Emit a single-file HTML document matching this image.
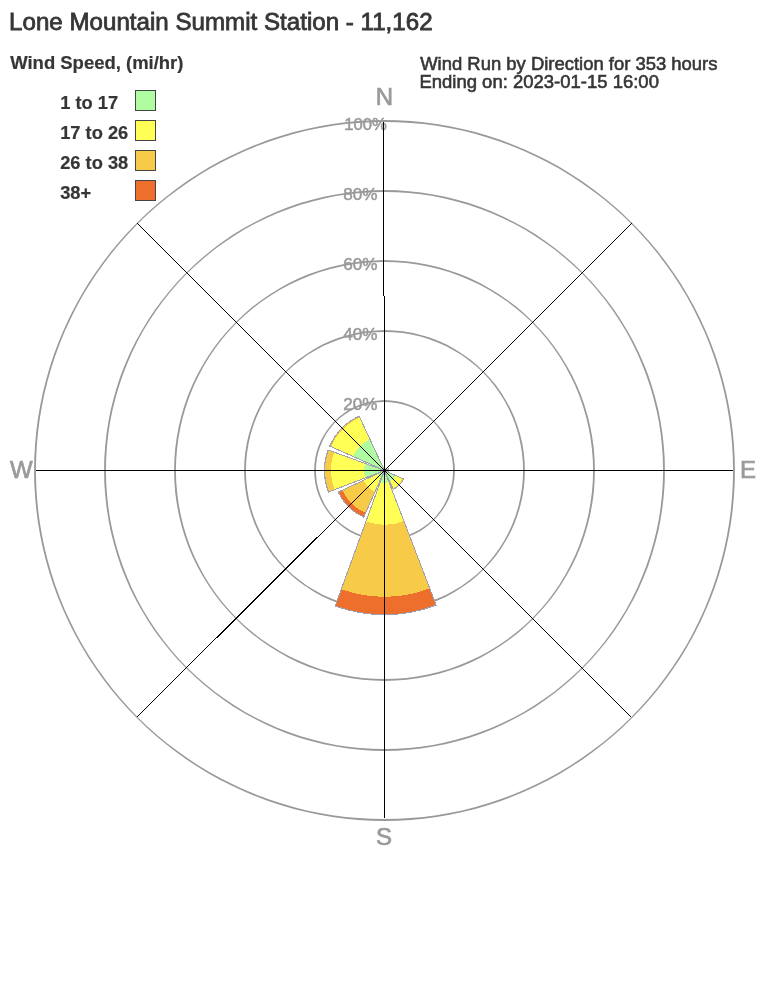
<!DOCTYPE html>
<html lang="en"><head><meta charset="utf-8"><title>Lone Mountain Summit Station - 11,162</title>
<style>
html,body{margin:0;padding:0;background:#fff;}
svg{display:block;opacity:0.999;will-change:transform;font-family:"Liberation Sans",Arial,Helvetica,sans-serif;}
</style></head><body>
<svg width="768" height="1008" viewBox="0 0 768 1008">
<rect width="768" height="1008" fill="#ffffff"/>

<g fill="#999999" fill-rule="evenodd" stroke="none">
<path d="M454.9,470.5L454.6,476.6L453.8,482.7L452.5,488.7L450.6,494.6L448.2,500.2L445.4,505.6L442.0,510.8L438.3,515.6L434.1,520.1L429.6,524.3L424.8,528.0L419.6,531.4L414.2,534.2L408.6,536.6L402.7,538.5L396.7,539.8L390.6,540.6L384.5,540.9L378.4,540.6L372.3,539.8L366.3,538.5L360.4,536.6L354.8,534.2L349.4,531.4L344.2,528.0L339.4,524.3L334.9,520.1L330.7,515.6L327.0,510.8L323.6,505.6L320.8,500.2L318.4,494.6L316.5,488.7L315.2,482.7L314.4,476.6L314.1,470.5L314.4,464.4L315.2,458.3L316.5,452.3L318.4,446.4L320.8,440.8L323.6,435.4L327.0,430.2L330.7,425.4L334.9,420.9L339.4,416.7L344.2,413.0L349.4,409.6L354.8,406.8L360.4,404.4L366.3,402.5L372.3,401.2L378.4,400.4L384.5,400.1L390.6,400.4L396.7,401.2L402.7,402.5L408.6,404.4L414.2,406.8L419.6,409.6L424.8,413.0L429.6,416.7L434.1,420.9L438.3,425.4L442.0,430.2L445.4,435.4L448.2,440.8L450.6,446.4L452.5,452.3L453.8,458.3L454.6,464.4ZM453.1,470.5L452.8,476.5L452.1,482.4L450.8,488.3L449.0,494.0L446.7,499.5L444.0,504.9L440.8,509.9L437.2,514.7L433.2,519.2L428.7,523.2L423.9,526.8L418.9,530.0L413.5,532.7L408.0,535.0L402.3,536.8L396.4,538.1L390.5,538.8L384.5,539.1L378.5,538.8L372.6,538.1L366.7,536.8L361.0,535.0L355.5,532.7L350.1,530.0L345.1,526.8L340.3,523.2L335.8,519.2L331.8,514.7L328.2,509.9L325.0,504.9L322.3,499.5L320.0,494.0L318.2,488.3L316.9,482.4L316.2,476.5L315.9,470.5L316.2,464.5L316.9,458.6L318.2,452.7L320.0,447.0L322.3,441.5L325.0,436.1L328.2,431.1L331.8,426.3L335.8,421.8L340.3,417.8L345.1,414.2L350.1,411.0L355.5,408.3L361.0,406.0L366.7,404.2L372.6,402.9L378.5,402.2L384.5,401.9L390.5,402.2L396.4,402.9L402.3,404.2L408.0,406.0L413.5,408.3L418.9,411.0L423.9,414.2L428.7,417.8L433.2,421.8L437.2,426.3L440.8,431.1L444.0,436.1L446.7,441.5L449.0,447.0L450.8,452.7L452.1,458.6L452.8,464.5Z"/>
<path d="M524.9,470.5L524.6,479.7L523.7,488.8L522.2,497.9L520.1,506.8L517.4,515.6L514.2,524.2L510.4,532.6L506.0,540.6L501.1,548.4L495.8,555.9L489.9,562.9L483.6,569.6L476.9,575.9L469.9,581.8L462.4,587.1L454.6,592.0L446.6,596.4L438.2,600.2L429.6,603.4L420.8,606.1L411.9,608.2L402.8,609.7L393.7,610.6L384.5,610.9L375.3,610.6L366.2,609.7L357.1,608.2L348.2,606.1L339.4,603.4L330.8,600.2L322.4,596.4L314.4,592.0L306.6,587.1L299.1,581.8L292.1,575.9L285.4,569.6L279.1,562.9L273.2,555.9L267.9,548.4L263.0,540.6L258.6,532.6L254.8,524.2L251.6,515.6L248.9,506.8L246.8,497.9L245.3,488.8L244.4,479.7L244.1,470.5L244.4,461.3L245.3,452.2L246.8,443.1L248.9,434.2L251.6,425.4L254.8,416.8L258.6,408.4L263.0,400.4L267.9,392.6L273.2,385.1L279.1,378.1L285.4,371.4L292.1,365.1L299.1,359.2L306.6,353.9L314.4,349.0L322.4,344.6L330.8,340.8L339.4,337.6L348.2,334.9L357.1,332.8L366.2,331.3L375.3,330.4L384.5,330.1L393.7,330.4L402.8,331.3L411.9,332.8L420.8,334.9L429.6,337.6L438.2,340.8L446.6,344.6L454.6,349.0L462.4,353.9L469.9,359.2L476.9,365.1L483.6,371.4L489.9,378.1L495.8,385.1L501.1,392.6L506.0,400.4L510.4,408.4L514.2,416.8L517.4,425.4L520.1,434.2L522.2,443.1L523.7,452.2L524.6,461.3ZM523.1,470.5L522.8,479.6L521.9,488.6L520.4,497.5L518.4,506.4L515.8,515.1L512.6,523.6L508.9,531.8L504.6,539.9L499.9,547.6L494.6,555.0L488.9,562.0L482.7,568.7L476.0,574.9L469.0,580.6L461.6,585.9L453.9,590.6L445.8,594.9L437.6,598.6L429.1,601.8L420.4,604.4L411.5,606.4L402.6,607.9L393.6,608.8L384.5,609.1L375.4,608.8L366.4,607.9L357.5,606.4L348.6,604.4L339.9,601.8L331.4,598.6L323.2,594.9L315.1,590.6L307.4,585.9L300.0,580.6L293.0,574.9L286.3,568.7L280.1,562.0L274.4,555.0L269.1,547.6L264.4,539.9L260.1,531.8L256.4,523.6L253.2,515.1L250.6,506.4L248.6,497.5L247.1,488.6L246.2,479.6L245.9,470.5L246.2,461.4L247.1,452.4L248.6,443.5L250.6,434.6L253.2,425.9L256.4,417.4L260.1,409.2L264.4,401.1L269.1,393.4L274.4,386.0L280.1,379.0L286.3,372.3L293.0,366.1L300.0,360.4L307.4,355.1L315.1,350.4L323.2,346.1L331.4,342.4L339.9,339.2L348.6,336.6L357.5,334.6L366.4,333.1L375.4,332.2L384.5,331.9L393.6,332.2L402.6,333.1L411.5,334.6L420.4,336.6L429.1,339.2L437.6,342.4L445.8,346.1L453.9,350.4L461.6,355.1L469.0,360.4L476.0,366.1L482.7,372.3L488.9,379.0L494.6,386.0L499.9,393.4L504.6,401.1L508.9,409.2L512.6,417.4L515.8,425.9L518.4,434.6L520.4,443.5L521.9,452.4L522.8,461.4Z"/>
<path d="M594.9,470.5L594.6,481.5L593.8,492.5L592.3,503.4L590.3,514.2L587.7,525.0L584.6,535.5L580.9,545.9L576.7,556.1L571.9,566.0L566.6,575.6L560.8,585.0L554.6,594.1L547.9,602.8L540.7,611.1L533.1,619.1L525.1,626.7L516.8,633.9L508.1,640.6L499.0,646.8L489.6,652.6L480.0,657.9L470.1,662.7L459.9,666.9L449.5,670.6L439.0,673.7L428.2,676.3L417.4,678.3L406.5,679.8L395.5,680.6L384.5,680.9L373.5,680.6L362.5,679.8L351.6,678.3L340.8,676.3L330.0,673.7L319.5,670.6L309.1,666.9L298.9,662.7L289.0,657.9L279.4,652.6L270.0,646.8L260.9,640.6L252.2,633.9L243.9,626.7L235.9,619.1L228.3,611.1L221.1,602.8L214.4,594.1L208.2,585.0L202.4,575.6L197.1,566.0L192.3,556.1L188.1,545.9L184.4,535.5L181.3,525.0L178.7,514.2L176.7,503.4L175.2,492.5L174.4,481.5L174.1,470.5L174.4,459.5L175.2,448.5L176.7,437.6L178.7,426.8L181.3,416.0L184.4,405.5L188.1,395.1L192.3,384.9L197.1,375.0L202.4,365.4L208.2,356.0L214.4,346.9L221.1,338.2L228.3,329.9L235.9,321.9L243.9,314.3L252.2,307.1L260.9,300.4L270.0,294.2L279.4,288.4L289.0,283.1L298.9,278.3L309.1,274.1L319.5,270.4L330.0,267.3L340.8,264.7L351.6,262.7L362.5,261.2L373.5,260.4L384.5,260.1L395.5,260.4L406.5,261.2L417.4,262.7L428.2,264.7L439.0,267.3L449.5,270.4L459.9,274.1L470.1,278.3L480.0,283.1L489.6,288.4L499.0,294.2L508.1,300.4L516.8,307.1L525.1,314.3L533.1,321.9L540.7,329.9L547.9,338.2L554.6,346.9L560.8,356.0L566.6,365.4L571.9,375.0L576.7,384.9L580.9,395.1L584.6,405.5L587.7,416.0L590.3,426.8L592.3,437.6L593.8,448.5L594.6,459.5ZM593.1,470.5L592.8,481.4L591.9,492.3L590.5,503.1L588.5,513.9L586.0,524.5L582.9,535.0L579.3,545.3L575.1,555.4L570.4,565.2L565.2,574.9L559.6,584.2L553.4,593.2L546.8,601.9L539.7,610.2L532.2,618.2L524.2,625.7L515.9,632.8L507.2,639.4L498.2,645.6L488.9,651.2L479.2,656.4L469.4,661.1L459.3,665.3L449.0,668.9L438.5,672.0L427.9,674.5L417.1,676.5L406.3,677.9L395.4,678.8L384.5,679.1L373.6,678.8L362.7,677.9L351.9,676.5L341.1,674.5L330.5,672.0L320.0,668.9L309.7,665.3L299.6,661.1L289.8,656.4L280.1,651.2L270.8,645.6L261.8,639.4L253.1,632.8L244.8,625.7L236.8,618.2L229.3,610.2L222.2,601.9L215.6,593.2L209.4,584.2L203.8,574.9L198.6,565.2L193.9,555.4L189.7,545.3L186.1,535.0L183.0,524.5L180.5,513.9L178.5,503.1L177.1,492.3L176.2,481.4L175.9,470.5L176.2,459.6L177.1,448.7L178.5,437.9L180.5,427.1L183.0,416.5L186.1,406.0L189.7,395.7L193.9,385.6L198.6,375.8L203.8,366.1L209.4,356.8L215.6,347.8L222.2,339.1L229.3,330.8L236.8,322.8L244.8,315.3L253.1,308.2L261.8,301.6L270.8,295.4L280.1,289.8L289.8,284.6L299.6,279.9L309.7,275.7L320.0,272.1L330.5,269.0L341.1,266.5L351.9,264.5L362.7,263.1L373.6,262.2L384.5,261.9L395.4,262.2L406.3,263.1L417.1,264.5L427.9,266.5L438.5,269.0L449.0,272.1L459.3,275.7L469.4,279.9L479.2,284.6L488.9,289.8L498.2,295.4L507.2,301.6L515.9,308.2L524.2,315.3L532.2,322.8L539.7,330.8L546.8,339.1L553.4,347.8L559.6,356.8L565.2,366.1L570.4,375.8L575.1,385.6L579.3,395.7L582.9,406.0L586.0,416.5L588.5,427.1L590.5,437.9L591.9,448.7L592.8,459.6Z"/>
<path d="M664.9,470.5L664.7,482.7L663.8,494.9L662.5,507.1L660.6,519.2L658.3,531.2L655.3,543.1L651.9,554.8L648.0,566.4L643.5,577.8L638.6,589.0L633.1,599.9L627.2,610.6L620.9,621.1L614.1,631.2L606.8,641.1L599.1,650.6L591.1,659.8L582.6,668.6L573.8,677.1L564.6,685.1L555.1,692.8L545.2,700.1L535.1,706.9L524.6,713.2L513.9,719.1L503.0,724.6L491.8,729.5L480.4,734.0L468.8,737.9L457.1,741.3L445.2,744.3L433.2,746.6L421.1,748.5L408.9,749.8L396.7,750.7L384.5,750.9L372.3,750.7L360.1,749.8L347.9,748.5L335.8,746.6L323.8,744.3L311.9,741.3L300.2,737.9L288.6,734.0L277.2,729.5L266.0,724.6L255.1,719.1L244.4,713.2L233.9,706.9L223.8,700.1L213.9,692.8L204.4,685.1L195.2,677.1L186.4,668.6L177.9,659.8L169.9,650.6L162.2,641.1L154.9,631.2L148.1,621.1L141.8,610.6L135.9,599.9L130.4,589.0L125.5,577.8L121.0,566.4L117.1,554.8L113.7,543.1L110.7,531.2L108.4,519.2L106.5,507.1L105.2,494.9L104.3,482.7L104.1,470.5L104.3,458.3L105.2,446.1L106.5,433.9L108.4,421.8L110.7,409.8L113.7,397.9L117.1,386.2L121.0,374.6L125.5,363.2L130.4,352.0L135.9,341.1L141.8,330.4L148.1,319.9L154.9,309.8L162.2,299.9L169.9,290.4L177.9,281.2L186.4,272.4L195.2,263.9L204.4,255.9L213.9,248.2L223.8,240.9L233.9,234.1L244.4,227.8L255.1,221.9L266.0,216.4L277.2,211.5L288.6,207.0L300.2,203.1L311.9,199.7L323.8,196.7L335.8,194.4L347.9,192.5L360.1,191.2L372.3,190.3L384.5,190.1L396.7,190.3L408.9,191.2L421.1,192.5L433.2,194.4L445.2,196.7L457.1,199.7L468.8,203.1L480.4,207.0L491.8,211.5L503.0,216.4L513.9,221.9L524.6,227.8L535.1,234.1L545.2,240.9L555.1,248.2L564.6,255.9L573.8,263.9L582.6,272.4L591.1,281.2L599.1,290.4L606.8,299.9L614.1,309.8L620.9,319.9L627.2,330.4L633.1,341.1L638.6,352.0L643.5,363.2L648.0,374.6L651.9,386.2L655.3,397.9L658.3,409.8L660.6,421.8L662.5,433.9L663.8,446.1L664.7,458.3ZM663.1,470.5L662.8,482.7L662.0,494.8L660.7,506.9L658.9,518.9L656.5,530.8L653.6,542.6L650.2,554.3L646.3,565.8L641.9,577.1L637.1,588.3L631.7,599.2L625.9,609.9L619.6,620.3L612.8,630.4L605.7,640.2L598.1,649.7L590.1,658.9L581.7,667.7L572.9,676.1L563.7,684.1L554.2,691.7L544.4,698.8L534.3,705.6L523.9,711.9L513.2,717.7L502.3,723.1L491.1,727.9L479.8,732.3L468.3,736.2L456.6,739.6L444.8,742.5L432.9,744.9L420.9,746.7L408.8,748.0L396.7,748.8L384.5,749.1L372.3,748.8L360.2,748.0L348.1,746.7L336.1,744.9L324.2,742.5L312.4,739.6L300.7,736.2L289.2,732.3L277.9,727.9L266.7,723.1L255.8,717.7L245.1,711.9L234.7,705.6L224.6,698.8L214.8,691.7L205.3,684.1L196.1,676.1L187.3,667.7L178.9,658.9L170.9,649.7L163.3,640.2L156.2,630.4L149.4,620.3L143.1,609.9L137.3,599.2L131.9,588.3L127.1,577.1L122.7,565.8L118.8,554.3L115.4,542.6L112.5,530.8L110.1,518.9L108.3,506.9L107.0,494.8L106.2,482.7L105.9,470.5L106.2,458.3L107.0,446.2L108.3,434.1L110.1,422.1L112.5,410.2L115.4,398.4L118.8,386.7L122.7,375.2L127.1,363.9L131.9,352.7L137.3,341.8L143.1,331.1L149.4,320.7L156.2,310.6L163.3,300.8L170.9,291.3L178.9,282.1L187.3,273.3L196.1,264.9L205.3,256.9L214.8,249.3L224.6,242.2L234.7,235.4L245.1,229.1L255.8,223.3L266.7,217.9L277.9,213.1L289.2,208.7L300.7,204.8L312.4,201.4L324.2,198.5L336.1,196.1L348.1,194.3L360.2,193.0L372.3,192.2L384.5,191.9L396.7,192.2L408.8,193.0L420.9,194.3L432.9,196.1L444.8,198.5L456.6,201.4L468.3,204.8L479.8,208.7L491.1,213.1L502.3,217.9L513.2,223.3L523.9,229.1L534.3,235.4L544.4,242.2L554.2,249.3L563.7,256.9L572.9,264.9L581.7,273.3L590.1,282.1L598.1,291.3L605.7,300.8L612.8,310.6L619.6,320.7L625.9,331.1L631.7,341.8L637.1,352.7L641.9,363.9L646.3,375.2L650.2,386.7L653.6,398.4L656.5,410.2L658.9,422.1L660.7,434.1L662.0,446.2L662.8,458.3Z"/>
<path d="M734.9,470.5L734.7,483.6L733.9,496.7L732.7,509.7L731.0,522.7L728.8,535.6L726.1,548.5L722.9,561.2L719.3,573.8L715.2,586.2L710.6,598.5L705.6,610.6L700.1,622.5L694.2,634.2L687.9,645.6L681.1,656.9L673.9,667.8L666.3,678.5L658.3,688.9L649.9,698.9L641.2,708.7L632.1,718.1L622.7,727.2L612.9,735.9L602.9,744.3L592.5,752.3L581.8,759.9L570.9,767.1L559.6,773.9L548.2,780.2L536.5,786.1L524.6,791.6L512.5,796.6L500.2,801.2L487.8,805.3L475.2,808.9L462.5,812.1L449.6,814.8L436.7,817.0L423.7,818.7L410.7,819.9L397.6,820.7L384.5,820.9L371.4,820.7L358.3,819.9L345.3,818.7L332.3,817.0L319.4,814.8L306.5,812.1L293.8,808.9L281.2,805.3L268.8,801.2L256.5,796.6L244.4,791.6L232.5,786.1L220.8,780.2L209.4,773.9L198.1,767.1L187.2,759.9L176.5,752.3L166.1,744.3L156.1,735.9L146.3,727.2L136.9,718.1L127.8,708.7L119.1,698.9L110.7,688.9L102.7,678.5L95.1,667.8L87.9,656.9L81.1,645.6L74.8,634.2L68.9,622.5L63.4,610.6L58.4,598.5L53.8,586.2L49.7,573.8L46.1,561.2L42.9,548.5L40.2,535.6L38.0,522.7L36.3,509.7L35.1,496.7L34.3,483.6L34.1,470.5L34.3,457.4L35.1,444.3L36.3,431.3L38.0,418.3L40.2,405.4L42.9,392.5L46.1,379.8L49.7,367.2L53.8,354.8L58.4,342.5L63.4,330.4L68.9,318.5L74.8,306.8L81.1,295.4L87.9,284.1L95.1,273.2L102.7,262.5L110.7,252.1L119.1,242.1L127.8,232.3L136.9,222.9L146.3,213.8L156.1,205.1L166.1,196.7L176.5,188.7L187.2,181.1L198.1,173.9L209.4,167.1L220.8,160.8L232.5,154.9L244.4,149.4L256.5,144.4L268.8,139.8L281.2,135.7L293.8,132.1L306.5,128.9L319.4,126.2L332.3,124.0L345.3,122.3L358.3,121.1L371.4,120.3L384.5,120.1L397.6,120.3L410.7,121.1L423.7,122.3L436.7,124.0L449.6,126.2L462.5,128.9L475.2,132.1L487.8,135.7L500.2,139.8L512.5,144.4L524.6,149.4L536.5,154.9L548.2,160.8L559.6,167.1L570.9,173.9L581.8,181.1L592.5,188.7L602.9,196.7L612.9,205.1L622.7,213.8L632.1,222.9L641.2,232.3L649.9,242.1L658.3,252.1L666.3,262.5L673.9,273.2L681.1,284.1L687.9,295.4L694.2,306.8L700.1,318.5L705.6,330.4L710.6,342.5L715.2,354.8L719.3,367.2L722.9,379.8L726.1,392.5L728.8,405.4L731.0,418.3L732.7,431.3L733.9,444.3L734.7,457.4ZM733.1,470.5L732.8,483.5L732.1,496.5L730.9,509.5L729.2,522.5L727.0,535.3L724.4,548.1L721.2,560.7L717.6,573.3L713.6,585.6L709.0,597.9L704.1,609.9L698.6,621.8L692.8,633.4L686.5,644.9L679.8,656.0L672.6,667.0L665.1,677.6L657.2,688.0L648.9,698.0L640.2,707.8L631.2,717.2L621.8,726.2L612.0,734.9L602.0,743.2L591.6,751.1L581.0,758.6L570.0,765.8L558.9,772.5L547.4,778.8L535.8,784.6L523.9,790.1L511.9,795.0L499.6,799.6L487.3,803.6L474.7,807.2L462.1,810.4L449.3,813.0L436.5,815.2L423.5,816.9L410.5,818.1L397.5,818.8L384.5,819.1L371.5,818.8L358.5,818.1L345.5,816.9L332.5,815.2L319.7,813.0L306.9,810.4L294.3,807.2L281.7,803.6L269.4,799.6L257.1,795.0L245.1,790.1L233.2,784.6L221.6,778.8L210.1,772.5L199.0,765.8L188.0,758.6L177.4,751.1L167.0,743.2L157.0,734.9L147.2,726.2L137.8,717.2L128.8,707.8L120.1,698.0L111.8,688.0L103.9,677.6L96.4,667.0L89.2,656.0L82.5,644.9L76.2,633.4L70.4,621.8L64.9,609.9L60.0,597.9L55.4,585.6L51.4,573.3L47.8,560.7L44.6,548.1L42.0,535.3L39.8,522.5L38.1,509.5L36.9,496.5L36.2,483.5L35.9,470.5L36.2,457.5L36.9,444.5L38.1,431.5L39.8,418.5L42.0,405.7L44.6,392.9L47.8,380.3L51.4,367.7L55.4,355.4L60.0,343.1L64.9,331.1L70.4,319.2L76.2,307.6L82.5,296.1L89.2,285.0L96.4,274.0L103.9,263.4L111.8,253.0L120.1,243.0L128.8,233.2L137.8,223.8L147.2,214.8L157.0,206.1L167.0,197.8L177.4,189.9L188.0,182.4L199.0,175.2L210.1,168.5L221.6,162.2L233.2,156.4L245.1,150.9L257.1,146.0L269.4,141.4L281.7,137.4L294.3,133.8L306.9,130.6L319.7,128.0L332.5,125.8L345.5,124.1L358.5,122.9L371.5,122.2L384.5,121.9L397.5,122.2L410.5,122.9L423.5,124.1L436.5,125.8L449.3,128.0L462.1,130.6L474.7,133.8L487.3,137.4L499.6,141.4L511.9,146.0L523.9,150.9L535.8,156.4L547.4,162.2L558.9,168.5L570.0,175.2L581.0,182.4L591.6,189.9L602.0,197.8L612.0,206.1L621.8,214.8L631.2,223.8L640.2,233.2L648.9,243.0L657.2,253.0L665.1,263.4L672.6,274.0L679.8,285.0L686.5,296.1L692.8,307.6L698.6,319.2L704.1,331.1L709.0,343.1L713.6,355.4L717.6,367.7L721.2,380.3L724.4,392.9L727.0,405.7L729.2,418.5L730.9,431.5L732.1,444.5L732.8,457.5Z"/>
</g>
<g fill="#9a9a9a" stroke="#9a9a9a" stroke-width="0.5" font-size="16px">
<text transform="translate(344.24,130) scale(1.04,1)">100%</text>
<text transform="translate(343.3,200) scale(1.07,1)">80%</text>
<text transform="translate(343.3,270) scale(1.07,1)">60%</text>
<text transform="translate(343.3,340) scale(1.07,1)">40%</text>
<text transform="translate(343.3,410) scale(1.07,1)">20%</text>
</g>
<g shape-rendering="crispEdges">
<path d="M384.50,470.50L388.91,481.98A12.30,12.30 0 0 1 380.29,482.06Z" fill="#b0fca0"/>
<path d="M388.91,481.98L403.92,521.10A54.20,54.20 0 0 1 365.96,521.43L380.29,482.06A12.30,12.30 0 0 0 388.91,481.98Z" fill="#ffff55"/>
<path d="M403.92,521.10L429.76,588.41A126.30,126.30 0 0 1 341.30,589.18L365.96,521.43A54.20,54.20 0 0 0 403.92,521.10Z" fill="#f7cb48"/>
<path d="M429.76,588.41L436.18,605.12A144.20,144.20 0 0 1 335.18,606.00L341.30,589.18A126.30,126.30 0 0 0 429.76,588.41Z" fill="#ee6e2b"/>
<path d="M384.50,470.50L436.18,605.12A144.20,144.20 0 0 1 335.18,606.00Z" fill="none" stroke="#a3a0ad" stroke-width="1"/>
<path d="M384.50,470.50L381.45,477.35A7.50,7.50 0 0 1 377.70,473.67Z" fill="#b0fca0"/>
<path d="M381.45,477.35L375.15,491.51A23.00,23.00 0 0 1 363.65,480.22L377.70,473.67A7.50,7.50 0 0 0 381.45,477.35Z" fill="#ffff55"/>
<path d="M375.15,491.51L365.59,512.98A46.50,46.50 0 0 1 342.36,490.15L363.65,480.22A23.00,23.00 0 0 0 375.15,491.51Z" fill="#f7cb48"/>
<path d="M365.59,512.98L363.76,517.09A51.00,51.00 0 0 1 338.28,492.05L342.36,490.15A46.50,46.50 0 0 0 365.59,512.98Z" fill="#ee6e2b"/>
<path d="M384.50,470.50L363.76,517.09A51.00,51.00 0 0 1 338.28,492.05Z" fill="none" stroke="#a3a0ad" stroke-width="1"/>
<path d="M384.50,470.50L365.55,477.77A20.30,20.30 0 0 1 365.42,463.56Z" fill="#b0fca0"/>
<path d="M365.55,477.77L334.55,489.67A53.50,53.50 0 0 1 334.23,452.20L365.42,463.56A20.30,20.30 0 0 0 365.55,477.77Z" fill="#ffff55"/>
<path d="M334.55,489.67L328.49,492.00A60.00,60.00 0 0 1 328.12,449.98L334.23,452.20A53.50,53.50 0 0 0 334.55,489.67Z" fill="#f7cb48"/>
<path d="M384.50,470.50L328.49,492.00A60.00,60.00 0 0 1 328.12,449.98Z" fill="none" stroke="#a3a0ad" stroke-width="1"/>
<path d="M384.50,470.50L352.98,456.47A34.50,34.50 0 0 1 369.92,439.23Z" fill="#b0fca0"/>
<path d="M352.98,456.47L331.06,446.71A58.50,58.50 0 0 1 359.78,417.48L369.92,439.23A34.50,34.50 0 0 0 352.98,456.47Z" fill="#ffff55"/>
<path d="M331.06,446.71L329.69,446.10A60.00,60.00 0 0 1 359.14,416.12L359.78,417.48A58.50,58.50 0 0 0 331.06,446.71Z" fill="#f7cb48"/>
<path d="M384.50,470.50L329.69,446.10A60.00,60.00 0 0 1 359.14,416.12Z" fill="none" stroke="#a3a0ad" stroke-width="1"/>
<path d="M384.50,470.50L395.74,475.50A12.30,12.30 0 0 1 389.70,481.65Z" fill="#b0fca0"/>
<path d="M395.74,475.50L402.59,478.55A19.80,19.80 0 0 1 392.87,488.44L389.70,481.65A12.30,12.30 0 0 0 395.74,475.50Z" fill="#ffff55"/>
<path d="M402.59,478.55L403.50,478.96A20.80,20.80 0 0 1 393.29,489.35L392.87,488.44A19.80,19.80 0 0 0 402.59,478.55Z" fill="#f7cb48"/>
<path d="M384.50,470.50L403.50,478.96A20.80,20.80 0 0 1 393.29,489.35Z" fill="none" stroke="#a3a0ad" stroke-width="1"/>
<path d="M384.50,470.50L388.23,469.07A4.00,4.00 0 0 1 388.26,471.87Z" fill="#b0fca0"/>
<path d="M384.50,470.50L388.23,469.07A4.00,4.00 0 0 1 388.26,471.87Z" fill="none" stroke="#a3a0ad" stroke-width="1"/>
</g>
<g stroke="#000" stroke-width="1" shape-rendering="crispEdges">
<line x1="383.5" y1="122" x2="383.5" y2="296"/>
<line x1="384.5" y1="296" x2="384.5" y2="818"/>
<line x1="36" y1="470.5" x2="733" y2="470.5"/>
<line x1="137.0" y1="223.0" x2="384.5" y2="470.5"/>
<line x1="384.5" y1="470.5" x2="631.3" y2="717.3"/>
<line x1="384.5" y1="470.5" x2="136.7" y2="717.3"/>
<line x1="384.5" y1="470.5" x2="631.5" y2="223.5"/>
</g>
<g fill="#9a9a9a" stroke="#9a9a9a" stroke-width="0.7" font-size="24px" text-anchor="middle">
<text x="384.4" y="105">N</text>
<text x="384" y="844.5">S</text>
<text x="21.4" y="478">W</text>
<text x="748.1" y="478">E</text>
</g>
<text transform="translate(9.1,30) scale(1.006,1)" font-size="24px" fill="#363636" stroke="#363636" stroke-width="0.8">Lone Mountain Summit Station - 11,162</text>
<text transform="translate(10.2,69.3) scale(0.99,1)" font-size="18.67px" font-weight="bold" fill="#363636" stroke="#363636" stroke-width="0.2">Wind Speed, (mi/hr)</text>
<text transform="translate(420.2,69.5) scale(0.9885,1)" font-size="18.67px" fill="#363636" stroke="#363636" stroke-width="0.6">Wind Run by Direction for 353 hours</text>
<text transform="translate(419.4,88.4) scale(0.9905,1)" font-size="18.67px" fill="#363636" stroke="#363636" stroke-width="0.6">Ending on: 2023-01-15 16:00</text>
<text transform="translate(60.2,109.4) scale(0.98,1)" font-size="18.67px" font-weight="bold" fill="#363636" stroke="#363636" stroke-width="0.2">1 to 17</text>
<rect x="135.5" y="90.5" width="20" height="20" fill="#b0fca0" stroke="#444" stroke-width="1" shape-rendering="crispEdges"/>
<text transform="translate(60.2,139.4) scale(0.98,1)" font-size="18.67px" font-weight="bold" fill="#363636" stroke="#363636" stroke-width="0.2">17 to 26</text>
<rect x="135.5" y="120.5" width="20" height="20" fill="#ffff55" stroke="#444" stroke-width="1" shape-rendering="crispEdges"/>
<text transform="translate(60.2,169.4) scale(0.98,1)" font-size="18.67px" font-weight="bold" fill="#363636" stroke="#363636" stroke-width="0.2">26 to 38</text>
<rect x="135.5" y="150.5" width="20" height="20" fill="#f7cb48" stroke="#444" stroke-width="1" shape-rendering="crispEdges"/>
<text transform="translate(60.2,199.4) scale(0.98,1)" font-size="18.67px" font-weight="bold" fill="#363636" stroke="#363636" stroke-width="0.2">38+</text>
<rect x="135.5" y="180.5" width="20" height="20" fill="#ee6e2b" stroke="#444" stroke-width="1" shape-rendering="crispEdges"/>
</svg>
</body></html>
